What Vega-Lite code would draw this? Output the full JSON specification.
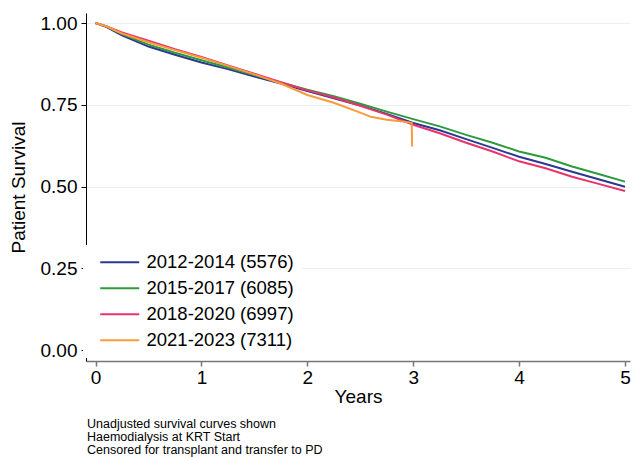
{
  "$schema": "https://vega.github.io/schema/vega-lite/v6.json",
  "width": 544,
  "height": 348,
  "autosize": "none",
  "padding": {"left": 86, "top": 13, "right": 3, "bottom": 96},
  "background": "white",
  "config": {
    "font": "Liberation Sans",
    "view": {"stroke": null},
    "title": {"font": "Liberation Sans"}
  },
  "title": {
    "text": ["Unadjusted survival curves shown", "Haemodialysis at KRT Start", "Censored for transplant and transfer to PD"],
    "orient": "bottom",
    "anchor": "start",
    "fontSize": 12.5,
    "lineHeight": 13.2,
    "fontWeight": "normal",
    "color": "black",
    "offset": 12,
    "dx": 78
  },
  "data": {
    "values": [
      {"t": 0, "s": 1.0, "g": "2012-2014 (5576)"},
      {"t": 0.1, "s": 0.988, "g": "2012-2014 (5576)"},
      {"t": 0.25, "s": 0.962, "g": "2012-2014 (5576)"},
      {"t": 0.5, "s": 0.928, "g": "2012-2014 (5576)"},
      {"t": 0.75, "s": 0.903, "g": "2012-2014 (5576)"},
      {"t": 1, "s": 0.879, "g": "2012-2014 (5576)"},
      {"t": 1.25, "s": 0.859, "g": "2012-2014 (5576)"},
      {"t": 1.5, "s": 0.836, "g": "2012-2014 (5576)"},
      {"t": 1.75, "s": 0.815, "g": "2012-2014 (5576)"},
      {"t": 2, "s": 0.792, "g": "2012-2014 (5576)"},
      {"t": 2.25, "s": 0.77, "g": "2012-2014 (5576)"},
      {"t": 2.5, "s": 0.748, "g": "2012-2014 (5576)"},
      {"t": 2.75, "s": 0.722, "g": "2012-2014 (5576)"},
      {"t": 3, "s": 0.694, "g": "2012-2014 (5576)"},
      {"t": 3.25, "s": 0.672, "g": "2012-2014 (5576)"},
      {"t": 3.5, "s": 0.645, "g": "2012-2014 (5576)"},
      {"t": 3.75, "s": 0.618, "g": "2012-2014 (5576)"},
      {"t": 4, "s": 0.591, "g": "2012-2014 (5576)"},
      {"t": 4.25, "s": 0.569, "g": "2012-2014 (5576)"},
      {"t": 4.5, "s": 0.545, "g": "2012-2014 (5576)"},
      {"t": 4.75, "s": 0.522, "g": "2012-2014 (5576)"},
      {"t": 5, "s": 0.499, "g": "2012-2014 (5576)"},

      {"t": 0, "s": 1.0, "g": "2015-2017 (6085)"},
      {"t": 0.1, "s": 0.99, "g": "2015-2017 (6085)"},
      {"t": 0.25, "s": 0.966, "g": "2015-2017 (6085)"},
      {"t": 0.5, "s": 0.934, "g": "2015-2017 (6085)"},
      {"t": 0.75, "s": 0.909, "g": "2015-2017 (6085)"},
      {"t": 1, "s": 0.886, "g": "2015-2017 (6085)"},
      {"t": 1.25, "s": 0.864, "g": "2015-2017 (6085)"},
      {"t": 1.5, "s": 0.841, "g": "2015-2017 (6085)"},
      {"t": 1.75, "s": 0.818, "g": "2015-2017 (6085)"},
      {"t": 2, "s": 0.796, "g": "2015-2017 (6085)"},
      {"t": 2.25, "s": 0.776, "g": "2015-2017 (6085)"},
      {"t": 2.5, "s": 0.753, "g": "2015-2017 (6085)"},
      {"t": 2.75, "s": 0.729, "g": "2015-2017 (6085)"},
      {"t": 3, "s": 0.706, "g": "2015-2017 (6085)"},
      {"t": 3.25, "s": 0.684, "g": "2015-2017 (6085)"},
      {"t": 3.5, "s": 0.658, "g": "2015-2017 (6085)"},
      {"t": 3.75, "s": 0.634, "g": "2015-2017 (6085)"},
      {"t": 4, "s": 0.607, "g": "2015-2017 (6085)"},
      {"t": 4.25, "s": 0.588, "g": "2015-2017 (6085)"},
      {"t": 4.5, "s": 0.561, "g": "2015-2017 (6085)"},
      {"t": 4.75, "s": 0.538, "g": "2015-2017 (6085)"},
      {"t": 5, "s": 0.515, "g": "2015-2017 (6085)"},

      {"t": 0, "s": 1.0, "g": "2018-2020 (6997)"},
      {"t": 0.1, "s": 0.99, "g": "2018-2020 (6997)"},
      {"t": 0.25, "s": 0.971, "g": "2018-2020 (6997)"},
      {"t": 0.5, "s": 0.946, "g": "2018-2020 (6997)"},
      {"t": 0.75, "s": 0.92, "g": "2018-2020 (6997)"},
      {"t": 1, "s": 0.896, "g": "2018-2020 (6997)"},
      {"t": 1.25, "s": 0.87, "g": "2018-2020 (6997)"},
      {"t": 1.5, "s": 0.845, "g": "2018-2020 (6997)"},
      {"t": 1.75, "s": 0.819, "g": "2018-2020 (6997)"},
      {"t": 2, "s": 0.794, "g": "2018-2020 (6997)"},
      {"t": 2.25, "s": 0.772, "g": "2018-2020 (6997)"},
      {"t": 2.5, "s": 0.747, "g": "2018-2020 (6997)"},
      {"t": 2.75, "s": 0.72, "g": "2018-2020 (6997)"},
      {"t": 3, "s": 0.689, "g": "2018-2020 (6997)"},
      {"t": 3.25, "s": 0.663, "g": "2018-2020 (6997)"},
      {"t": 3.5, "s": 0.634, "g": "2018-2020 (6997)"},
      {"t": 3.75, "s": 0.607, "g": "2018-2020 (6997)"},
      {"t": 4, "s": 0.577, "g": "2018-2020 (6997)"},
      {"t": 4.25, "s": 0.556, "g": "2018-2020 (6997)"},
      {"t": 4.5, "s": 0.53, "g": "2018-2020 (6997)"},
      {"t": 4.75, "s": 0.508, "g": "2018-2020 (6997)"},
      {"t": 5, "s": 0.486, "g": "2018-2020 (6997)"},

      {"t": 0, "s": 1.0, "g": "2021-2023 (7311)"},
      {"t": 0.1, "s": 0.99, "g": "2021-2023 (7311)"},
      {"t": 0.25, "s": 0.968, "g": "2021-2023 (7311)"},
      {"t": 0.5, "s": 0.941, "g": "2021-2023 (7311)"},
      {"t": 0.75, "s": 0.917, "g": "2021-2023 (7311)"},
      {"t": 1, "s": 0.894, "g": "2021-2023 (7311)"},
      {"t": 1.25, "s": 0.869, "g": "2021-2023 (7311)"},
      {"t": 1.5, "s": 0.843, "g": "2021-2023 (7311)"},
      {"t": 1.75, "s": 0.815, "g": "2021-2023 (7311)"},
      {"t": 2, "s": 0.78, "g": "2021-2023 (7311)"},
      {"t": 2.25, "s": 0.756, "g": "2021-2023 (7311)"},
      {"t": 2.5, "s": 0.726, "g": "2021-2023 (7311)"},
      {"t": 2.6, "s": 0.713, "g": "2021-2023 (7311)"},
      {"t": 2.75, "s": 0.704, "g": "2021-2023 (7311)"},
      {"t": 2.9, "s": 0.699, "g": "2021-2023 (7311)"},
      {"t": 2.985, "s": 0.695, "g": "2021-2023 (7311)"},
      {"t": 2.99, "s": 0.622, "g": "2021-2023 (7311)"}
    ]
  },
  "mark": {"type": "line", "strokeWidth": 2, "clip": true},
  "encoding": {
    "x": {
      "field": "t",
      "type": "quantitative",
      "scale": {"domain": [-0.09, 5.047], "nice": false, "zero": false},
      "axis": {
        "title": "Years",
        "values": [0, 1, 2, 3, 4, 5],
        "format": "d",
        "grid": false,
        "domainColor": "#777777",
        "domainWidth": 1.5,
        "tickColor": "#777777",
        "tickWidth": 1.5,
        "tickSize": 5,
        "labelFontSize": 19,
        "labelColor": "black",
        "labelPadding": 2,
        "titleFontSize": 19,
        "titleFontWeight": "normal",
        "titleColor": "black",
        "titlePadding": 0,
        "labelFont": "Liberation Sans",
        "titleFont": "Liberation Sans"
      }
    },
    "y": {
      "field": "s",
      "type": "quantitative",
      "scale": {"domain": [-0.0336, 1.0306], "nice": false, "zero": false},
      "axis": {
        "title": "Patient Survival",
        "values": [0, 0.25, 0.5, 0.75, 1],
        "format": ".2f",
        "grid": true,
        "gridColor": "#e8f0f2",
        "gridWidth": 1.2,
        "gridOpacity": {"condition": {"test": "datum.value === 0", "value": 0}, "value": 1},
        "domainColor": "black",
        "domainWidth": 1,
        "tickColor": "black",
        "tickSize": 5,
        "labelFontSize": 19,
        "labelColor": "black",
        "labelPadding": 4,
        "titleFontSize": 19,
        "titleFontWeight": "normal",
        "titleColor": "black",
        "titlePadding": 12,
        "labelFont": "Liberation Sans",
        "titleFont": "Liberation Sans"
      }
    },
    "color": {
      "field": "g",
      "type": "nominal",
      "scale": {
        "domain": ["2012-2014 (5576)", "2015-2017 (6085)", "2018-2020 (6997)", "2021-2023 (7311)"],
        "range": ["#2b3990", "#2e9a3e", "#e8336e", "#f99b3a"]
      },
      "legend": {
        "title": null,
        "orient": "none",
        "legendX": -3,
        "legendY": 232,
        "padding": 8,
        "fillColor": "white",
        "symbolType": "M0,0H8",
        "symbolSize": 95,
        "symbolStrokeWidth": 2,
        "labelOffset": 37,
        "labelFontSize": 18.5,
        "labelColor": "black",
        "labelFont": "Liberation Sans",
        "rowPadding": 7,
        "labelLimit": 300
      }
    }
  }
}
